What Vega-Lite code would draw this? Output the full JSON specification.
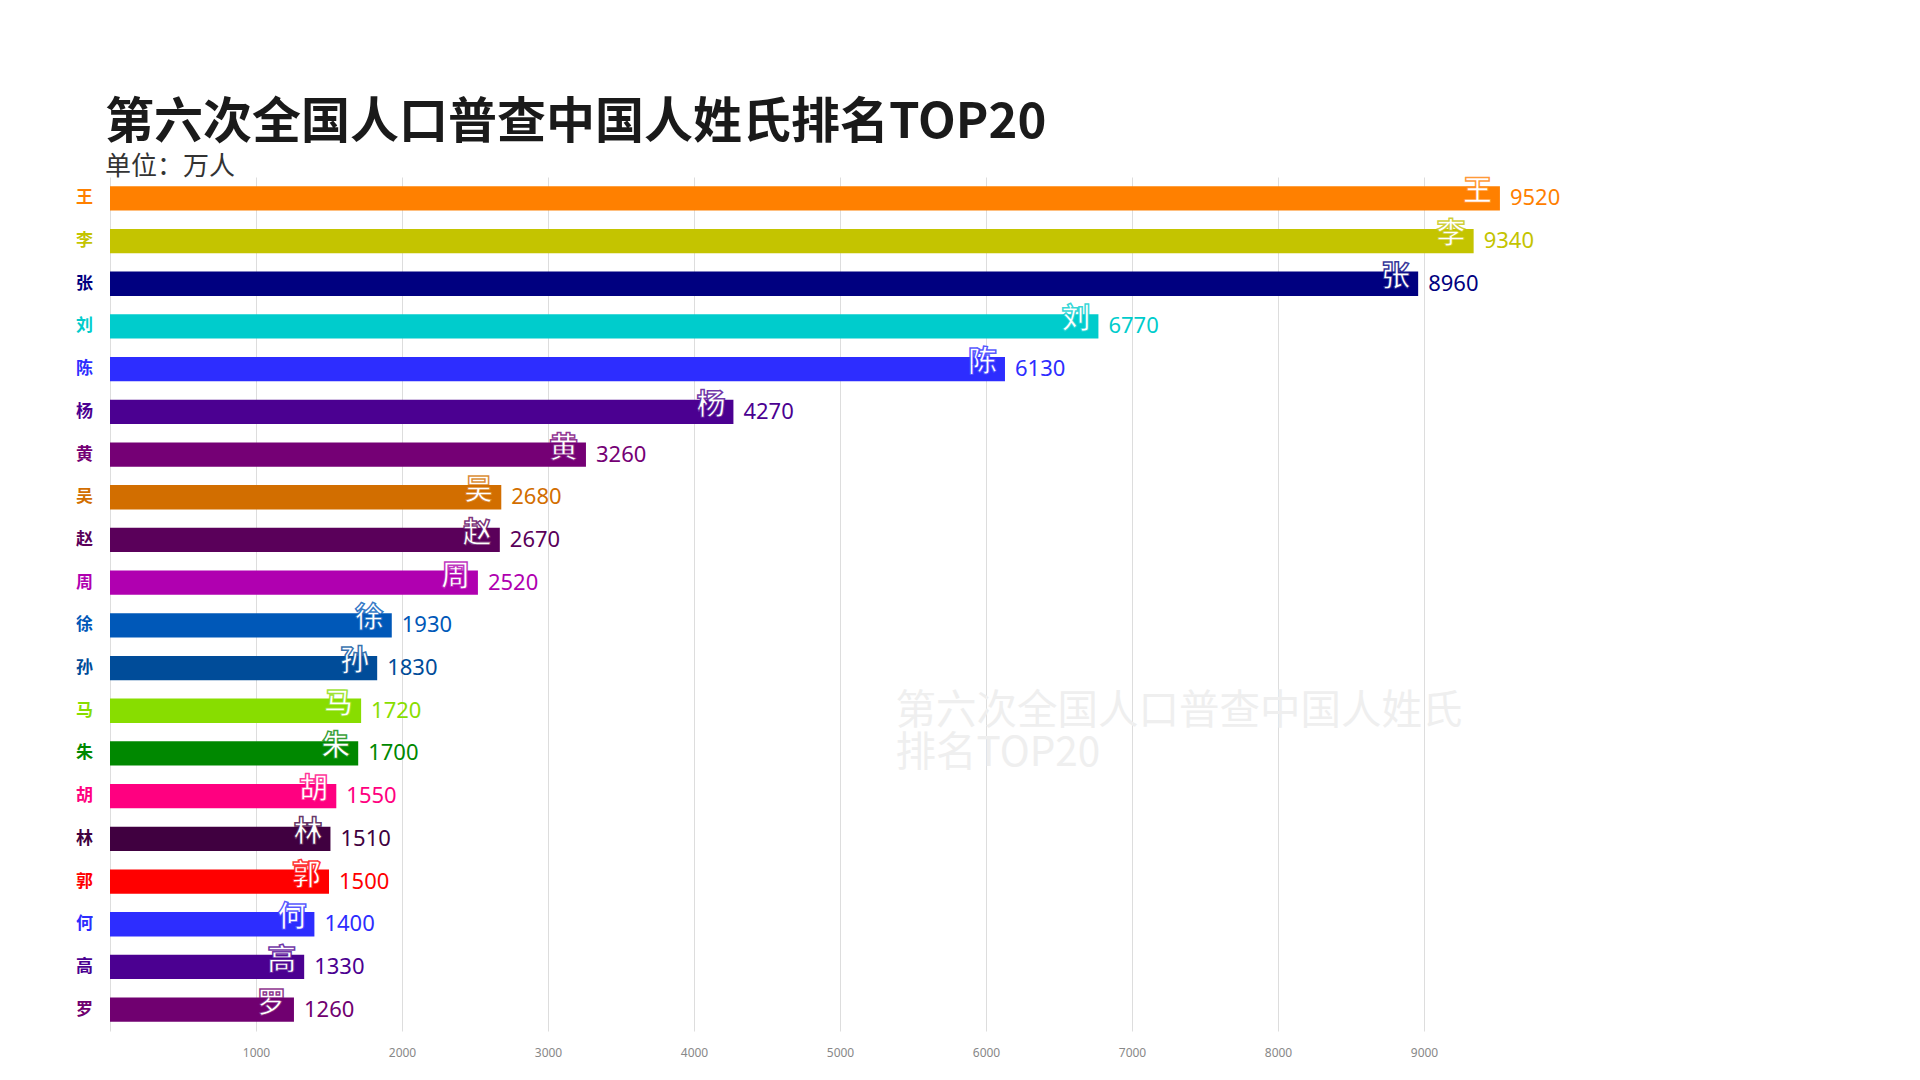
{
  "$schema": "https://vega.github.io/schema/vega-lite/v6.json",
  "autosize": {"type": "none"},
  "padding": {"left": 110, "top": 177, "right": 350, "bottom": 49},
  "width": 1460,
  "height": 854,
  "background": "white",
  "title": {
    "text": "第六次全国人口普查中国人姓氏排名TOP20",
    "subtitle": "单位：万人",
    "anchor": "start",
    "frame": "group",
    "dx": -5,
    "offset": -3,
    "font": "Noto Sans CJK SC",
    "fontSize": 49,
    "fontWeight": "bold",
    "color": "#1a1a1a",
    "subtitleFont": "Noto Sans CJK SC",
    "subtitleFontSize": 26,
    "subtitleColor": "#333333",
    "subtitlePadding": 6
  },
  "config": {"view": {"stroke": null}},
  "data": {
    "values": [
      {"name": "王", "value": 9520},
      {"name": "李", "value": 9340},
      {"name": "张", "value": 8960},
      {"name": "刘", "value": 6770},
      {"name": "陈", "value": 6130},
      {"name": "杨", "value": 4270},
      {"name": "黄", "value": 3260},
      {"name": "吴", "value": 2680},
      {"name": "赵", "value": 2670},
      {"name": "周", "value": 2520},
      {"name": "徐", "value": 1930},
      {"name": "孙", "value": 1830},
      {"name": "马", "value": 1720},
      {"name": "朱", "value": 1700},
      {"name": "胡", "value": 1550},
      {"name": "林", "value": 1510},
      {"name": "郭", "value": 1500},
      {"name": "何", "value": 1400},
      {"name": "高", "value": 1330},
      {"name": "罗", "value": 1260}
    ]
  },
  "encoding": {
    "y": {
      "field": "name",
      "type": "nominal",
      "scale": {
        "domain": ["王","李","张","刘","陈","杨","黄","吴","赵","周","徐","孙","马","朱","胡","林","郭","何","高","罗"],
        "paddingInner": 0.43,
        "paddingOuter": 0.215
      },
      "axis": {"labels": false, "ticks": false, "title": null, "grid": false, "domainColor": "#dddddd"}
    }
  },
  "layer": [
    {
      "data": {"values": [
        {"t": "第六次全国人口普查中国人姓氏", "row": "马"},
        {"t": "排名TOP20", "row": "朱"}
      ]},
      "mark": {"type": "text", "align": "left", "baseline": "middle", "dy": 1, "font": "Noto Sans CJK SC", "fontSize": 40.5, "color": "#efefef"},
      "encoding": {
        "x": {"datum": 5380, "type": "quantitative"},
        "y": {"field": "row", "type": "nominal"},
        "text": {"field": "t"}
      }
    },
    {
      "mark": {"type": "bar"},
      "encoding": {
        "x": {
          "field": "value",
          "type": "quantitative",
          "scale": {"domain": [0, 10000], "nice": false},
          "axis": {
            "values": [1000,2000,3000,4000,5000,6000,7000,8000,9000],
            "format": "d",
            "grid": true,
            "gridColor": "#dddddd",
            "ticks": false,
            "domain": false,
            "title": null,
            "labelColor": "#888888",
            "labelFont": "Noto Sans",
            "labelFontSize": 12,
            "labelPadding": 16
          }
        },
        "color": {
          "field": "name",
          "type": "nominal",
          "legend": null,
          "scale": {
            "domain": ["王","李","张","刘","陈","杨","黄","吴","赵","周","徐","孙","马","朱","胡","林","郭","何","高","罗"],
            "range": ["#ff8000","#c4c400","#000080","#00cccc","#2d2dff","#4b0091","#750075","#d26e00","#5a005a","#b000b0","#0058b8","#004c99","#88dd00","#008800","#ff0080","#400040","#ff0000","#2d2dff","#4b0091","#700070"]
          }
        }
      }
    },
    {
      "mark": {"type": "text", "align": "left", "baseline": "middle", "dx": 10, "font": "Noto Sans", "fontSize": 22},
      "encoding": {
        "x": {"field": "value", "type": "quantitative"},
        "text": {"field": "value", "type": "quantitative", "format": "d"},
        "color": {"field": "name", "type": "nominal", "legend": null}
      }
    },
    {
      "mark": {"type": "text", "align": "right", "baseline": "middle", "dx": -8, "dy": -6, "font": "Noto Sans CJK SC", "fontSize": 29, "fontWeight": "bold", "fill": "white", "strokeWidth": 1.5, "strokeOpacity": 0.8, "paintOrder": "stroke"},
      "encoding": {
        "x": {"field": "value", "type": "quantitative"},
        "text": {"field": "name"},
        "stroke": {
          "field": "name",
          "type": "nominal",
          "legend": null,
          "scale": {
            "domain": ["王","李","张","刘","陈","杨","黄","吴","赵","周","徐","孙","马","朱","胡","林","郭","何","高","罗"],
            "range": ["#ff8000","#c4c400","#000080","#00cccc","#2d2dff","#4b0091","#750075","#d26e00","#5a005a","#b000b0","#0058b8","#004c99","#88dd00","#008800","#ff0080","#400040","#ff0000","#2d2dff","#4b0091","#700070"]
          }
        }
      }
    },
    {
      "mark": {"type": "text", "align": "right", "baseline": "middle", "dx": -17, "font": "Noto Sans CJK SC", "fontSize": 17, "fontWeight": "bold"},
      "encoding": {
        "x": {"datum": 0, "type": "quantitative"},
        "text": {"field": "name"},
        "color": {"field": "name", "type": "nominal", "legend": null}
      }
    }
  ]
}
